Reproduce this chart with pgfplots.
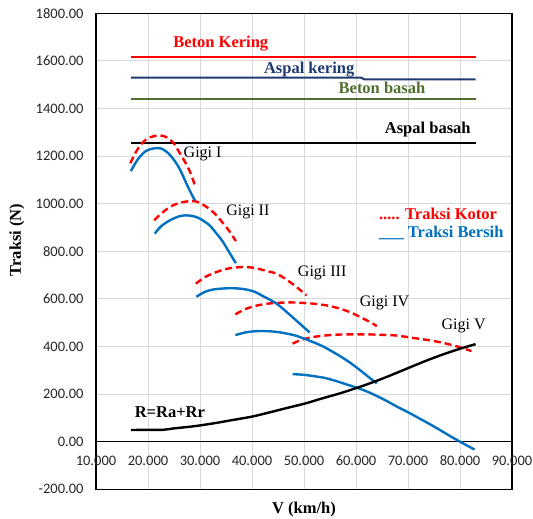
\documentclass[border=0pt]{standalone}
\usepackage{pgfplots}
\pgfplotsset{compat=1.18}
\usepackage{fontspec}
\setmainfont{Liberation Serif}
\newfontfamily\carlito{Carlito}
\definecolor{navyk}{HTML}{1F3A70}
\definecolor{greenb}{HTML}{4F6F2F}
\definecolor{blueb}{HTML}{0070C0}
\definecolor{gridg}{HTML}{D9D9D9}
\begin{document}
\begin{tikzpicture}
\useasboundingbox (-96pt,-29.7pt) rectangle (437pt,489.3pt);
\begin{axis}[
  at={(0,0)}, anchor=south west,
  width=416pt, height=476pt, scale only axis,
  xmin=10, xmax=90, ymin=-200, ymax=1800,
  xtick={10,20,...,90}, ytick={-200,0,...,1800},
  grid=major, major grid style={draw=gridg, line width=0.9pt},
  axis line style={line width=1.2pt, black},
  tick style={draw=none},
  /pgf/number format/assume math mode=true,
  tick label style={font=\carlito\fontsize{14.5}{16}\selectfont, text=black!85},
  xticklabel style={anchor=center, yshift=28.2pt, /pgf/number format/.cd, fixed, zerofill, precision=3},
  yticklabel style={anchor=east, xshift=-9pt, /pgf/number format/.cd, fixed, zerofill, precision=2, 1000 sep={}},
  extra y ticks={0}, extra y tick labels={},
  extra y tick style={grid=major, major grid style={draw=black, line width=1.2pt}},
  xlabel={V (km/h)}, ylabel={Traksi (N)},
  label style={font=\bfseries\fontsize{16.5}{18}\selectfont},
  xlabel style={at={(axis description cs:0.5,-0.0435)}, anchor=center},
  ylabel style={at={(axis description cs:-0.19,0.524)}, anchor=center},
  clip=false,
]
% horizontal limits
\addplot[red, line width=2pt] coordinates {(16.7,1617) (83,1617)};
\addplot[navyk, line width=2pt] coordinates {(16.7,1530) (61,1530) (61.6,1522) (83,1522)};
\addplot[greenb, line width=2pt] coordinates {(16.7,1438) (83,1438)};
\addplot[black, line width=2pt] coordinates {(16.7,1256) (83,1256)};
% Traksi kotor (dashed red)
\addplot[red, line width=2.4pt, dash pattern=on 7pt off 4pt, smooth] coordinates {
(16.6,1170) (17.5,1210) (18.5,1245) (20,1275) (22,1287) (23.5,1280) (24.8,1258) (25.8,1224) (27,1180) (28.1,1133) (29.1,1072)};
\addplot[red, line width=2.4pt, dash pattern=on 7pt off 4pt, smooth] coordinates {
(21.2,930) (22.5,958) (24.2,986) (26,1003) (28.1,1011) (29.5,1008) (31.3,986) (33,955) (34.5,916) (35.8,880) (36.9,843)};
\addplot[red, line width=2.4pt, dash pattern=on 7pt off 4pt, smooth] coordinates {
(29.2,664) (31,692) (33.2,713) (35.5,728) (38.3,734) (40.5,730) (42.7,718) (44.7,706) (46.5,683) (48.5,651) (50.5,615)};
\addplot[red, line width=2.4pt, dash pattern=on 7pt off 4pt, smooth] coordinates {
(36.8,535) (38.5,555) (40.5,570) (43,580) (45.4,584) (48,585) (51.8,580) (54.5,572) (56.9,559) (59,543) (60.8,524) (62.5,505) (64,486)};
\addplot[red, line width=2.4pt, dash pattern=on 7pt off 4pt, smooth] coordinates {
(47.8,412) (49.5,428) (51.8,440) (55,448) (58.2,451) (62,451) (65,449) (67.8,446) (71,436) (74.2,426) (77,414) (79.5,400) (82.2,381)};
% Traksi bersih (solid blue)
\addplot[blueb, line width=2.4pt, smooth] coordinates {
(16.7,1137) (18,1185) (19.5,1220) (21,1232) (22.5,1232) (24,1210) (25.5,1168) (26.5,1128) (27.4,1084) (28.2,1048) (29.0,1014)};
\addplot[blueb, line width=2.4pt, smooth] coordinates {
(21.3,874) (22.5,905) (24.2,930) (26,947) (27.4,951) (28.8,947) (30,937) (31.8,910) (33.2,874) (34.4,840) (35.4,804) (36.9,750)};
\addplot[blueb, line width=2.4pt, smooth] coordinates {
(29.3,609) (31,630) (33,641) (36,645) (38.5,641) (40.5,630) (42,613) (43.5,596) (45.1,574) (47.7,525) (49.5,490) (51.1,459)};
\addplot[blueb, line width=2.4pt, smooth] coordinates {
(36.8,448) (38.5,458) (40,463) (42,465) (44.5,462) (46.5,455) (48.5,445) (51,425) (53.5,402) (55.5,378) (57.5,352) (59.5,322) (61.5,288) (64,245)};
\addplot[blueb, line width=2.4pt, smooth] coordinates {
(47.8,284) (50,281) (52,275) (54,268) (56,256) (58,242) (60,228) (62,212) (64,192) (66,170) (68,146) (70,124) (72,100) (74,76) (76,51) (78,25) (80,0) (82.8,-33)};
% Resistance
\addplot[black, line width=2.4pt, smooth] coordinates {
(16.7,49) (20,50) (22.9,50) (25,56) (28.1,63) (30.5,70) (33.4,80) (36.5,92) (39.9,105) (43,121) (46.4,140) (50.3,161) (53.5,182) (56.9,203) (60,225) (62,240) (64,256) (66,273) (68,291) (70,309) (73,336) (76,361) (78.5,380) (80.5,394) (83,410)};
% labels
\begin{scope}[every node/.style={font=\bfseries\fontsize{16.5}{18}\selectfont, inner sep=0pt}]
\node[text=red] at (axis cs:34.0,1674) {Beton Kering};
\node[text=navyk] at (axis cs:51.0,1564) {Aspal kering};
\node[text=greenb] at (axis cs:65.0,1485) {Beton basah};
\node[text=black] at (axis cs:73.8,1312) {Aspal basah};
\node[text=black] at (axis cs:24.2,123) {R=Ra+Rr};
\node[text=red, anchor=west] at (axis cs:64.4,959) {..... Traksi Kotor};
\node[text=blueb, anchor=west] at (axis cs:64.4,876) {\_\_\_ Traksi Bersih};
\end{scope}
\begin{scope}[every node/.style={font=\fontsize{16}{18}\selectfont, inner sep=0pt}]
\node at (axis cs:30.5,1211) {Gigi I};
\node at (axis cs:39.2,966) {Gigi II};
\node at (axis cs:53.5,711) {Gigi III};
\node at (axis cs:65.5,584) {Gigi IV};
\node at (axis cs:80.7,486) {Gigi V};
\end{scope}
\end{axis}
\end{tikzpicture}
\end{document}
